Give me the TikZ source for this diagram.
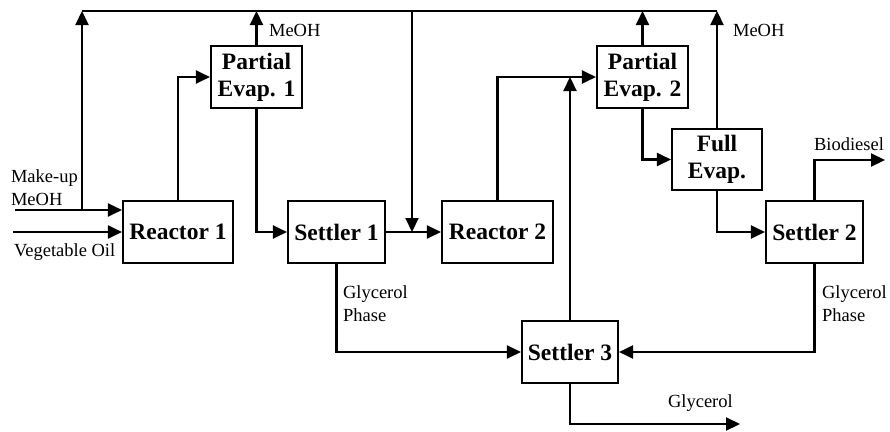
\documentclass[tikz,border=0pt]{standalone}
\usepackage{fontspec}
\setmainfont{Liberation Serif}
\usetikzlibrary{arrows.meta}
\begin{document}
\begin{tikzpicture}[x=1pt,y=-1pt,
  line width=2.1pt,
  box/.style={draw, line width=2.1pt, minimum height=62pt, inner sep=0pt, align=center,
    font=\fontsize{23.5}{27}\selectfont\bfseries},
  arr/.style={-{Triangle[length=14pt,width=13pt]}},
  lbl/.style={inner sep=0pt, align=left, font=\fontsize{18.5}{23}\selectfont}]
\useasboundingbox (0,0) rectangle (890,431);
% boxes
\node[box, minimum width=110pt] (r1) at (178,232) {Reactor 1};
\node[box, minimum width=91pt] (pe1) at (256.5,77) {Partial\\Evap. 1};
\node[box, minimum width=97pt] (s1) at (336.5,232) {Settler 1};
\node[box, minimum width=111pt] (r2) at (497.5,232) {Reactor 2};
\node[box, minimum width=91pt] (pe2) at (642.5,77) {Partial\\Evap. 2};
\node[box, minimum width=90pt, minimum height=61pt] (fe) at (717,159.5) {Full\\Evap.};
\node[box, minimum width=97pt] (s2) at (814.5,232) {Settler 2};
\node[box, minimum width=96pt] (s3) at (570,352) {Settler 3};
% coordinates
\coordinate (tl) at (82,11);
\coordinate (tr) at (717,11);
\coordinate (mu) at (15,210);
\coordinate (vo) at (13,232);
\coordinate (dn) at (412,11);
\coordinate (bio) at (885,160);
\coordinate (gly) at (740,424);
% connectors
\draw (tl) -- (tr);
\draw[arr] (mu) -- (mu -| r1.west);
\draw[arr] (tl |- mu) -- (tl);
\draw[arr] (vo) -- (r1.west);
\draw[arr] (r1.north) |- (pe1.west);
\draw[arr] (pe1.north) -- (pe1.north |- tl);
\draw[arr] (pe1.south) |- (s1.west);
\draw[arr] (s1.east) -- (r2.west);
\draw[arr] (dn) -- (dn |- s1.east);
\draw[arr] (r2.north) |- (pe2.west);
\draw[arr] (s3.north) -- (s3.north |- pe2.west);
\draw[arr] (pe2.north) -- (pe2.north |- tl);
\draw[arr] (pe2.south) |- (fe.west);
\draw[arr] (fe.north) -- (tr);
\draw[arr] (fe.south) |- (s2.west);
\draw[arr] (s2.north) |- (bio);
\draw[arr] (s2.south) |- (s3.east);
\draw[arr] (s1.south) |- (s3.west);
\draw[arr] (s3.south) |- (gly);
% labels
\node[lbl, anchor=west] (m1) at (268,30) {MeOH};
\node[lbl, anchor=west] (m2) at (732,30) {MeOH};
\node[lbl, anchor=west] (bd) at (813,144) {Biodiesel};
\node[lbl, anchor=west] (mk) at (10,188) {Make-up\\MeOH};
\node[lbl, anchor=west] (vl) at (13,252) {Vegetable Oil};
\node[lbl, anchor=west] (g1) at (342,304) {Glycerol\\Phase};
\node[lbl, anchor=west] (g2) at (821,304) {Glycerol\\Phase};
\node[lbl, anchor=west] (g3) at (667,403) {Glycerol};
\end{tikzpicture}
\end{document}
